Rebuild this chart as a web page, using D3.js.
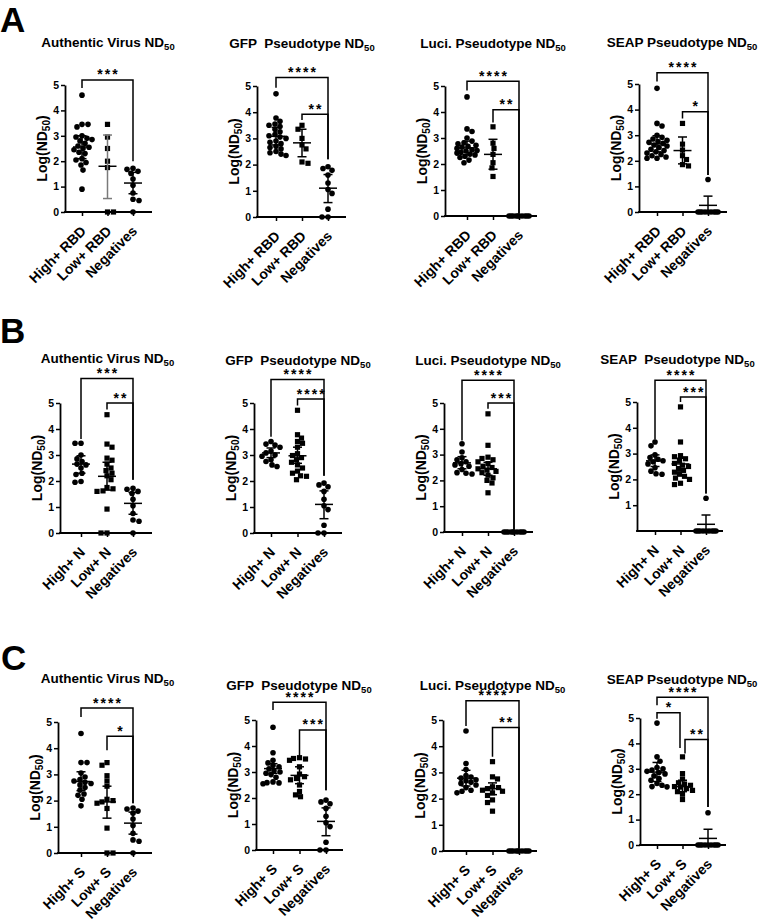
<!DOCTYPE html>
<html><head><meta charset="utf-8">
<script src="https://cdn.jsdelivr.net/npm/d3@7"></script>
<style>
body{margin:0;background:#fff}
svg text{font-family:"Liberation Sans",Arial,Helvetica,sans-serif;font-weight:bold;fill:#000}
</style></head>
<body><svg id="chart" width="760" height="921"></svg>
<script>
// ---------- categories / labels ----------
const catsA = ["High+ RBD", "Low+ RBD", "Negatives"];
const catsB = ["High+ N", "Low+ N", "Negatives"];
const catsC = ["High+ S", "Low+ S", "Negatives"];
const titlesA = ["Authentic Virus ND", "GFP  Pseudotype ND", "Luci. Pseudotype ND", "SEAP Pseudotype ND"];
const titlesB = ["Authentic Virus ND", "GFP  Pseudotype ND", "Luci. Pseudotype ND", "SEAP  Pseudotype ND"];
const titlesC = ["Authentic Virus ND", "GFP  Pseudotype ND", "Luci. Pseudotype ND", "SEAP Pseudotype ND"];
const panelLetters = ["A", "B", "C"];
const yTicks = [0, 1, 2, 3, 4, 5];
const yTicksNoZero = [1, 2, 3, 4, 5];

// ---------- negatives (shared across rows) ----------
const negAuthentic = [1.72, 1.68, 1.6, 1.52, 1.3, 1.05, 0.75, 0.5, 0.45, 0];
const negGFP = [1.92, 1.85, 1.78, 1.6, 1.3, 1.05, 0.9, 0.3, 0, 0];
const negLuci = [0, 0, 0, 0, 0, 0, 0, 0, 0, 0];
const negSEAP = [1.27, 0, 0, 0, 0, 0, 0, 0, 0, 0];
// [mean, mean-SD, mean+SD]
const statNegAuthentic = [1.14, 0.72, 1.56];
const statNegGFP = [1.1, 0.55, 1.62];
const statNegLuci = [0, 0, 0];
const statNegSEAP = [0.26, -0.1, 0.62];

// ---------- Row A (RBD) ----------
const authHighRBD = [4.6, 3.45, 3.45, 3.35, 3.0, 2.95, 2.9, 2.85, 2.8, 2.7, 2.6, 2.55, 2.5, 2.45, 2.35, 2.3, 2.1, 2.05, 1.95, 1.85, 1.65, 0.9];
const authLowRBD = [3.45, 2.95, 2.5, 2.0, 1.75, 0, 0];
const gfpHighRBD = [4.7, 3.78, 3.65, 3.55, 3.5, 3.45, 3.35, 3.25, 3.15, 3.1, 3.05, 3.0, 2.9, 2.85, 2.8, 2.7, 2.65, 2.6, 2.5, 2.45, 2.4, 2.35];
const gfpLowRBD = [3.5, 3.35, 3.0, 2.75, 2.6, 2.1, 2.05];
const luciHighRBD = [4.58, 3.35, 3.25, 3.0, 2.88, 2.82, 2.78, 2.72, 2.68, 2.65, 2.6, 2.55, 2.52, 2.5, 2.45, 2.42, 2.38, 2.35, 2.3, 2.25, 2.15, 2.05];
const luciLowRBD = [3.43, 2.8, 2.6, 2.37, 2.05, 1.85, 1.52];
const seapHighRBD = [4.83, 3.46, 3.36, 3.0, 2.92, 2.85, 2.8, 2.75, 2.72, 2.68, 2.62, 2.58, 2.52, 2.45, 2.4, 2.35, 2.3, 2.25, 2.2, 2.15, 2.1, 2.1];
const seapLowRBD = [3.46, 2.65, 2.42, 2.2, 2.05, 1.85, 1.8];
const statA = [
  [[2.56, 2.1, 3.0], [1.8, 0.53, 3.03], statNegAuthentic],
  [[3.08, 2.75, 3.42], [2.83, 2.3, 3.35], statNegGFP],
  [[2.62, 2.35, 2.88], [2.37, 1.8, 2.95], statNegLuci],
  [[2.66, 2.35, 2.98], [2.4, 1.88, 2.93], statNegSEAP]
];
// [fromGroup, toGroup, bracket level, left leg end, right leg end, label]
const bracketsA = [
  [[0, 2, 5.2, 4.88, 2.0, "***"]],
  [[0, 2, 5.32, 4.93, 2.2, "****"], [1, 2, 3.92, 3.7, 2.2, "**"]],
  [[0, 2, 5.18, 4.83, 0.1, "****"], [1, 2, 4.09, 3.6, 0.1, "**"]],
  [[0, 2, 5.44, 5.1, 1.45, "****"], [1, 2, 3.92, 3.65, 1.45, "*"]]
];

// ---------- Row B (N) ----------
const authHighN = [3.45, 3.45, 3.0, 2.85, 2.75, 2.65, 2.62, 2.5, 2.3, 2.25, 1.98, 1.95];
const authLowN = [4.55, 3.42, 3.3, 2.88, 2.8, 2.65, 2.5, 2.4, 2.3, 2.2, 2.05, 1.75, 1.7, 1.62, 1.6, 0.92, 0, 0];
const gfpHighN = [3.52, 3.42, 3.38, 3.3, 3.15, 3.08, 3.0, 2.95, 2.82, 2.75, 2.62, 2.56];
const gfpLowN = [4.72, 3.78, 3.65, 3.52, 3.45, 3.3, 3.05, 2.98, 2.9, 2.82, 2.72, 2.62, 2.5, 2.38, 2.3, 2.2, 2.18, 2.05];
const luciHighN = [3.42, 3.1, 2.88, 2.8, 2.72, 2.65, 2.6, 2.55, 2.42, 2.3, 2.28, 2.25];
const luciLowN = [4.58, 3.36, 2.9, 2.85, 2.8, 2.72, 2.65, 2.55, 2.5, 2.45, 2.4, 2.35, 2.3, 2.2, 2.1, 2.0, 1.9, 1.52];
const seapHighN = [3.45, 3.3, 2.95, 2.85, 2.78, 2.72, 2.68, 2.6, 2.45, 2.32, 2.22, 2.2];
const seapLowN = [4.81, 3.45, 2.92, 2.88, 2.8, 2.72, 2.62, 2.55, 2.5, 2.42, 2.35, 2.28, 2.2, 2.12, 2.05, 2.0, 1.85, 1.8];
const statB = [
  [[2.65, 2.3, 2.97], [2.18, 1.65, 2.72], statNegAuthentic],
  [[3.08, 2.9, 3.27], [2.97, 2.68, 3.3], statNegGFP],
  [[2.68, 2.45, 2.92], [2.45, 2.2, 2.7], statNegLuci],
  [[2.72, 2.5, 2.95], [2.6, 2.32, 2.82], statNegSEAP]
];
const bracketsB = [
  [[0, 2, 5.94, 3.62, 2.05, "***"], [1, 2, 5.0, 4.75, 2.05, "**"]],
  [[0, 2, 5.9, 3.7, 2.2, "****"], [1, 2, 5.15, 4.9, 2.2, "****"]],
  [[0, 2, 5.88, 3.55, 0.1, "****"], [1, 2, 5.0, 4.78, 0.1, "***"]],
  [[0, 2, 5.84, 3.55, 1.45, "****"], [1, 2, 5.19, 5.0, 1.45, "***"]]
];

// ---------- Row C (S) ----------
const authHighS = [4.56, 3.45, 3.45, 3.05, 2.9, 2.8, 2.75, 2.7, 2.65, 2.6, 2.5, 2.4, 2.25, 2.2, 2.05, 1.8];
const authLowS = [3.45, 3.35, 2.95, 2.75, 2.55, 2.05, 2.0, 1.95, 1.9, 1.7, 0.95, 0, 0];
const gfpHighS = [4.72, 3.74, 3.45, 3.35, 3.25, 3.2, 3.12, 3.05, 3.0, 2.95, 2.9, 2.8, 2.62, 2.59, 2.58, 2.55];
const gfpLowS = [3.55, 3.52, 3.5, 3.45, 3.2, 2.92, 2.82, 2.75, 2.7, 2.5, 2.25, 2.12, 2.05];
const luciHighS = [4.58, 3.34, 3.11, 2.88, 2.82, 2.78, 2.72, 2.68, 2.62, 2.58, 2.52, 2.42, 2.32, 2.28, 2.22];
const luciLowS = [3.41, 2.83, 2.75, 2.45, 2.42, 2.38, 2.32, 2.28, 2.22, 2.12, 1.95, 1.85, 1.52];
const seapHighS = [4.8, 3.47, 3.3, 3.05, 3.0, 2.95, 2.9, 2.85, 2.8, 2.72, 2.62, 2.55, 2.42, 2.35, 2.3, 2.29];
const seapLowS = [3.47, 2.81, 2.6, 2.45, 2.4, 2.35, 2.3, 2.28, 2.22, 2.15, 2.1, 2.0, 1.79];
const statC = [
  [[2.73, 2.38, 3.1], [1.95, 1.33, 2.55], statNegAuthentic],
  [[3.13, 2.95, 3.32], [2.87, 2.55, 3.2], statNegGFP],
  [[2.78, 2.48, 3.08], [2.38, 2.15, 2.6], statNegLuci],
  [[2.87, 2.5, 3.25], [2.3, 2.1, 2.55], statNegSEAP]
];
const bracketsC = [
  [[0, 2, 5.53, 5.19, 1.9, "****"], [1, 2, 4.46, 3.92, 1.9, "*"]],
  [[0, 2, 5.68, 5.38, 2.3, "****"], [1, 2, 4.62, 3.59, 2.3, "***"]],
  [[0, 2, 5.73, 4.77, 0.1, "****"], [1, 2, 4.71, 3.6, 0.1, "**"]],
  [[0, 2, 5.82, 5.5, 1.5, "****"], [0, 1, 5.21, 4.97, 3.82, "*"], [1, 2, 4.15, 3.6, 1.5, "**"]]
];

// ---------- assemble panels (data only) ----------
const groupsA = [[authHighRBD, authLowRBD, negAuthentic], [gfpHighRBD, gfpLowRBD, negGFP], [luciHighRBD, luciLowRBD, negLuci], [seapHighRBD, seapLowRBD, negSEAP]];
const groupsB = [[authHighN, authLowN, negAuthentic], [gfpHighN, gfpLowN, negGFP], [luciHighN, luciLowN, negLuci], [seapHighN, seapLowN, negSEAP]];
const groupsC = [[authHighS, authLowS, negAuthentic], [gfpHighS, gfpLowS, negGFP], [luciHighS, luciLowS, negLuci], [seapHighS, seapLowS, negSEAP]];
const rows = [
  {cats: catsA, titles: titlesA, groups: groupsA, stats: statA, brackets: bracketsA, ticks: [yTicks, yTicks, yTicks, yTicks]},
  {cats: catsB, titles: titlesB, groups: groupsB, stats: statB, brackets: bracketsB, ticks: [yTicks, yTicks, yTicks, yTicksNoZero]},
  {cats: catsC, titles: titlesC, groups: groupsC, stats: statC, brackets: bracketsC, ticks: [yTicks, yTicks, yTicks, yTicks]}
];

// ---------- layout (pixels) ----------
const layout = [
  [ {ax:65, y5:85, y0:212, c1:82, c3:133, xEnd:152, tx:108, ty:47},
    {ax:257, y5:86, y0:217, c1:276, c3:328, xEnd:346, tx:302, ty:48},
    {ax:445, y5:86, y0:216, c1:467, c3:519, xEnd:537, tx:493, ty:48},
    {ax:639, y5:84, y0:212, c1:657, c3:708, xEnd:727, tx:682, ty:47} ],
  [ {ax:60, y5:403, y0:533, c1:81, c3:133, xEnd:152, tx:107.5, ty:363},
    {ax:254, y5:403, y0:533, c1:271, c3:324, xEnd:342, tx:298, ty:365},
    {ax:444, y5:403, y0:532, c1:462, c3:514, xEnd:533, tx:488, ty:365},
    {ax:637, y5:402, y0:531, c1:655, c3:706, xEnd:723, tx:677.5, ty:364} ],
  [ {ax:58, y5:722, y0:853, c1:81, c3:133, xEnd:152, tx:107.5, ty:683},
    {ax:256, y5:720, y0:850, c1:273, c3:326, xEnd:343, tx:299, ty:690},
    {ax:443, y5:720, y0:851, c1:466, c3:519, xEnd:537, tx:492.5, ty:690},
    {ax:640, y5:718, y0:845, c1:657, c3:708, xEnd:726, tx:682, ty:684} ]
];
const letterPos = [[0, 32], [0, 343], [1, 670]];
const greyErr = {"0-0-1": true};

const svg = d3.select("#chart");
svg.append("rect").attr("width", 760).attr("height", 921).attr("fill", "#fff");

function swarm(vals, y, d, step, maxOff) {
  const pts = vals.map(v => ({v, y: y(v)})).sort((a, b) => b.v - a.v);
  const placed = [];
  pts.forEach((p, idx) => {
    let best = 0, bestScore = -1, found = false;
    const sgn = idx % 2 ? -1 : 1;
    for (let k = 0; k * step <= maxOff && !found; k++) {
      const cands = k === 0 ? [0] : [sgn * k * step, -sgn * k * step];
      for (const off of cands) {
        let minD = Infinity;
        for (const q of placed) {
          const dd = Math.hypot(q.off - off, q.y - p.y);
          if (dd < minD) minD = dd;
        }
        if (minD >= d) { best = off; found = true; break; }
        if (minD > bestScore) { bestScore = minD; best = off; }
      }
    }
    p.off = best;
    placed.push(p);
  });
  return placed;
}

rows.forEach((row, ri) => {
  svg.append("text").attr("x", letterPos[ri][0]).attr("y", letterPos[ri][1])
    .attr("font-size", 35).text(panelLetters[ri]);

  for (let ci = 0; ci < 4; ci++) {
    const L = layout[ri][ci];
    const g = svg.append("g");
    const y = d3.scaleLinear().domain([0, 5]).range([L.y0, L.y5]);
    const x = d3.scalePoint().domain(row.cats).range([L.c1, L.c3]);

    // title
    const t = g.append("text").attr("x", L.tx).attr("y", L.ty).attr("text-anchor", "middle")
      .attr("font-size", 13.5).style("white-space", "pre");
    t.append("tspan").text(row.titles[ci]);
    t.append("tspan").attr("font-size", 9.5).attr("dy", 3).text("50");

    // y axis
    const ya = g.append("g").attr("transform", `translate(${L.ax},0)`)
      .call(d3.axisLeft(y).tickValues(row.ticks[ci]).tickSize(4).tickSizeOuter(0).tickPadding(2).tickFormat(d3.format("d")));
    ya.attr("font-family", null).attr("font-size", null);
    ya.select(".domain").attr("stroke", "#000").attr("stroke-width", 1.8);
    ya.selectAll(".tick line").attr("stroke", "#000").attr("stroke-width", 1.5);
    ya.selectAll(".tick text").attr("font-size", 10.5).attr("fill", "#000");

    // x axis
    const xa = g.append("g").attr("transform", `translate(0,${L.y0})`)
      .call(d3.axisBottom(x).tickSize(4).tickSizeOuter(0).tickFormat(""));
    xa.select(".domain").remove();
    xa.selectAll(".tick line").attr("stroke", "#000").attr("stroke-width", 1.5);
    g.append("line").attr("x1", L.ax - 0.9).attr("x2", L.xEnd).attr("y1", L.y0).attr("y2", L.y0)
      .attr("stroke", "#000").attr("stroke-width", 1.8);

    // x labels
    row.cats.forEach(c => {
      g.append("text").attr("transform", `translate(${x(c) + 5},${L.y0 + 20}) rotate(-45)`)
        .attr("text-anchor", "end").attr("font-size", 14).text(c);
    });

    // y label
    const yl = g.append("text").attr("transform", `translate(${L.ax - 23},${(L.y0 + L.y5) / 2}) rotate(-90)`)
      .attr("text-anchor", "middle").attr("dy", "0.35em").attr("font-size", 14);
    yl.append("tspan").text("Log(ND");
    yl.append("tspan").attr("font-size", 10).attr("dy", 3).text("50");
    yl.append("tspan").attr("dy", -3).text(")");

    // points
    row.groups[ci].forEach((vals, gi) => {
      const cx = x(row.cats[gi]);
      const pts = swarm(vals, y, 5.2, 1, 10);
      if (gi === 1) {
        g.selectAll(null).data(pts).join("rect")
          .attr("x", d => cx + d.off - 2.6).attr("y", d => d.y - 2.6)
          .attr("width", 5.2).attr("height", 5.2).attr("fill", "#000");
      } else {
        g.selectAll(null).data(pts).join("circle")
          .attr("cx", d => cx + d.off).attr("cy", d => d.y).attr("r", 2.8).attr("fill", "#000");
      }
    });

    // error bars (mean ± SD)
    row.stats[ci].forEach((s, gi) => {
      const cx = x(row.cats[gi]);
      const col = greyErr[`${ri}-${ci}-${gi}`] ? "#7a7a7a" : "#000";
      const [m, lo, hi] = s;
      const eb = g.append("g").attr("stroke", col).attr("stroke-width", 1.5).attr("fill", "none");
      eb.append("line").attr("x1", cx - 9).attr("x2", cx + 9).attr("y1", y(m)).attr("y2", y(m)).attr("stroke", "#000");
      if (hi > m) {
        eb.append("line").attr("x1", cx).attr("x2", cx).attr("y1", y(Math.max(lo, 0))).attr("y2", y(hi));
        eb.append("line").attr("x1", cx - 4.5).attr("x2", cx + 4.5).attr("y1", y(hi)).attr("y2", y(hi));
        if (lo >= 0) eb.append("line").attr("x1", cx - 4.5).attr("x2", cx + 4.5).attr("y1", y(lo)).attr("y2", y(lo));
      }
    });

    // significance brackets
    const br = row.brackets[ci];
    br.forEach(b => {
      const [from, to, lev, le, re, lab] = b;
      let x1 = x(row.cats[from]), x2 = x(row.cats[to]);
      if (br.some(o => o !== b && o[0] === to)) x2 -= 2.5;
      if (br.some(o => o !== b && o[1] === from)) x1 += 2.5;
      g.append("path").attr("d", `M${x1},${y(le)}V${y(lev)}H${x2}V${y(re)}`)
        .attr("fill", "none").attr("stroke", "#000").attr("stroke-width", 1.5);
      g.append("text").attr("x", (x1 + x2) / 2 + 1).attr("y", y(lev) - 0.5)
        .attr("text-anchor", "middle").attr("font-size", 14).attr("letter-spacing", 2).text(lab);
    });
  }
});
</script></body></html>
